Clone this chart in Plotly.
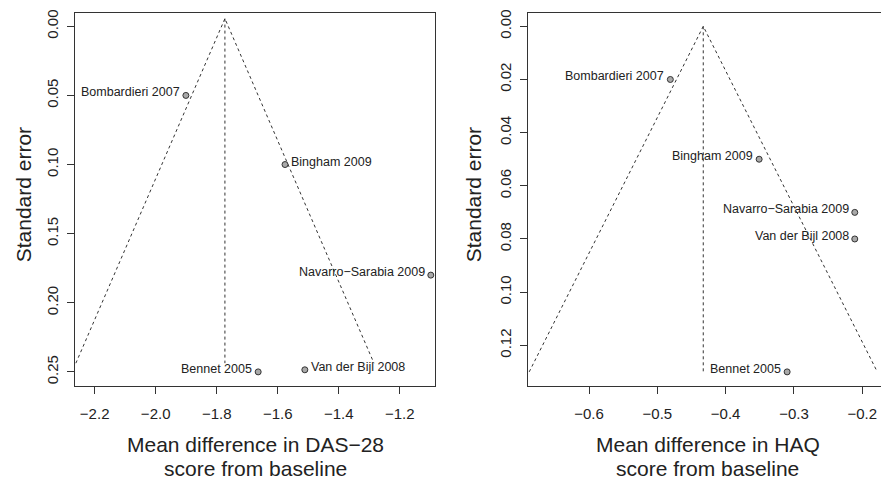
import plotly.graph_objects as go

# ---------------- data ----------------
studies = ["Bombardieri 2007", "Bingham 2009", "Navarro\u2212Sarabia 2009", "Van der Bijl 2008", "Bennet 2005"]

das_md = [-1.901, -1.576, -1.098, -1.511, -1.664]
das_se = [0.050, 0.100, 0.180, 0.2485, 0.250]
das_side = ["left", "right", "left", "right", "left"]

haq_md = [-0.481, -0.351, -0.211, -0.211, -0.310]
haq_se = [0.020, 0.050, 0.070, 0.080, 0.130]
haq_side = ["left", "left", "left", "left", "left"]

das_center, das_se_top, das_se_bottom = -1.773, -0.0056, 0.2437
haq_center, haq_se_top, haq_se_bottom = -0.4328, 0.0, 0.13

das_xticks = [-2.2, -2.0, -1.8, -1.6, -1.4, -1.2]
das_yticks = [0.00, 0.05, 0.10, 0.15, 0.20, 0.25]
haq_xticks = [-0.6, -0.5, -0.4, -0.3, -0.2]
haq_yticks = [0.00, 0.02, 0.04, 0.06, 0.08, 0.10, 0.12]

W, H = 881, 480
FONT = "Liberation Sans, Arial, Helvetica, sans-serif"
INK = "#222222"
LINE = "#333333"

fig = go.Figure()


def fmt(v, nd):
    s = f"{v:.{nd}f}"
    return s.replace("-", "\u2212")


def add_panel(xa, ya, md, se, sides, center, se_top, se_bot):
    z = 1.96
    lx = [center - z * (se_bot - se_top), center, center + z * (se_bot - se_top)]
    ly = [se_bot, se_top, se_bot]
    fig.add_trace(go.Scatter(x=lx, y=ly, mode="lines", xaxis=xa, yaxis=ya,
                             line=dict(color=LINE, width=1, dash="3px,3px"),
                             hoverinfo="skip", showlegend=False, cliponaxis=True))
    fig.add_trace(go.Scatter(x=[center, center], y=[se_top, se_bot], mode="lines", xaxis=xa, yaxis=ya,
                             line=dict(color=LINE, width=1, dash="3px,3px"),
                             hoverinfo="skip", showlegend=False))
    fig.add_trace(go.Scatter(x=md, y=se, mode="markers", xaxis=xa, yaxis=ya,
                             marker=dict(size=6, color="#a9a9a9", line=dict(color=LINE, width=1)),
                             showlegend=False, cliponaxis=False))
    for name, x, y, side in zip(studies, md, se, sides):
        fig.add_annotation(x=x, y=y, xref=xa, yref=ya, text=name, showarrow=False,
                           xanchor="right" if side == "left" else "left",
                           xshift=-4 if side == "left" else 4, yshift=3,
                           font=dict(family=FONT, size=12.5, color=INK))


add_panel("x", "y", das_md, das_se, das_side, das_center, das_se_top, das_se_bottom)
add_panel("x2", "y2", haq_md, haq_se, haq_side, haq_center, haq_se_top, haq_se_bottom)

top = 1 - 12.5 / H
bot = 1 - 385.7 / H

common_tick = dict(ticks="outside", ticklen=7, tickwidth=1, tickcolor=LINE,
                   showgrid=False, zeroline=False, linecolor=LINE, linewidth=1, showline=True,
                   tickfont=dict(family=FONT, size=15, color=INK))

fig.update_layout(
    width=W, height=H,
    margin=dict(l=0, r=0, t=0, b=0, autoexpand=False),
    paper_bgcolor="white", plot_bgcolor="white",
    showlegend=False,
    xaxis=dict(domain=[75 / W, 435 / W], range=[-2.2645, -1.0843],
               tickvals=das_xticks, ticktext=[fmt(v, 1) for v in das_xticks],
               mirror=True, anchor="y", ticklabelstandoff=7, **common_tick),
    yaxis=dict(domain=[bot, top], range=[0.26, -0.01],
               tickvals=das_yticks, ticktext=[fmt(v, 2) for v in das_yticks],
               mirror=True, anchor="x", tickangle=-90, ticklabelstandoff=3, **common_tick),
    xaxis2=dict(domain=[527.7 / W, 1.0], range=[-0.6898, -0.1726],
                tickvals=haq_xticks, ticktext=[fmt(v, 1) for v in haq_xticks],
                mirror=True, anchor="y2", ticklabelstandoff=7, **common_tick),
    yaxis2=dict(domain=[bot, top], range=[0.1352, -0.0052],
                tickvals=haq_yticks, ticktext=[fmt(v, 2) for v in haq_yticks],
                mirror=False, anchor="x2", tickangle=-90, ticklabelstandoff=3, **common_tick),
)

title_font = dict(family=FONT, size=21, color=INK)
for xc, l1 in [(255, "Mean difference in DAS\u221228"), (707.7, "Mean difference in HAQ")]:
    fig.add_annotation(x=xc / W, y=1 - 444 / H, xref="paper", yref="paper", text=l1,
                       showarrow=False, xanchor="center", yanchor="middle", font=title_font)
    fig.add_annotation(x=xc / W, y=1 - 468.5 / H, xref="paper", yref="paper", text="score from baseline",
                       showarrow=False, xanchor="center", yanchor="middle", font=title_font)
for xc in [23.3, 473.3]:
    fig.add_annotation(x=xc / W, y=1 - 195 / H, xref="paper", yref="paper", text="Standard error",
                       showarrow=False, xanchor="center", yanchor="middle", textangle=-90, font=title_font)

fig.write_html("out.html")
